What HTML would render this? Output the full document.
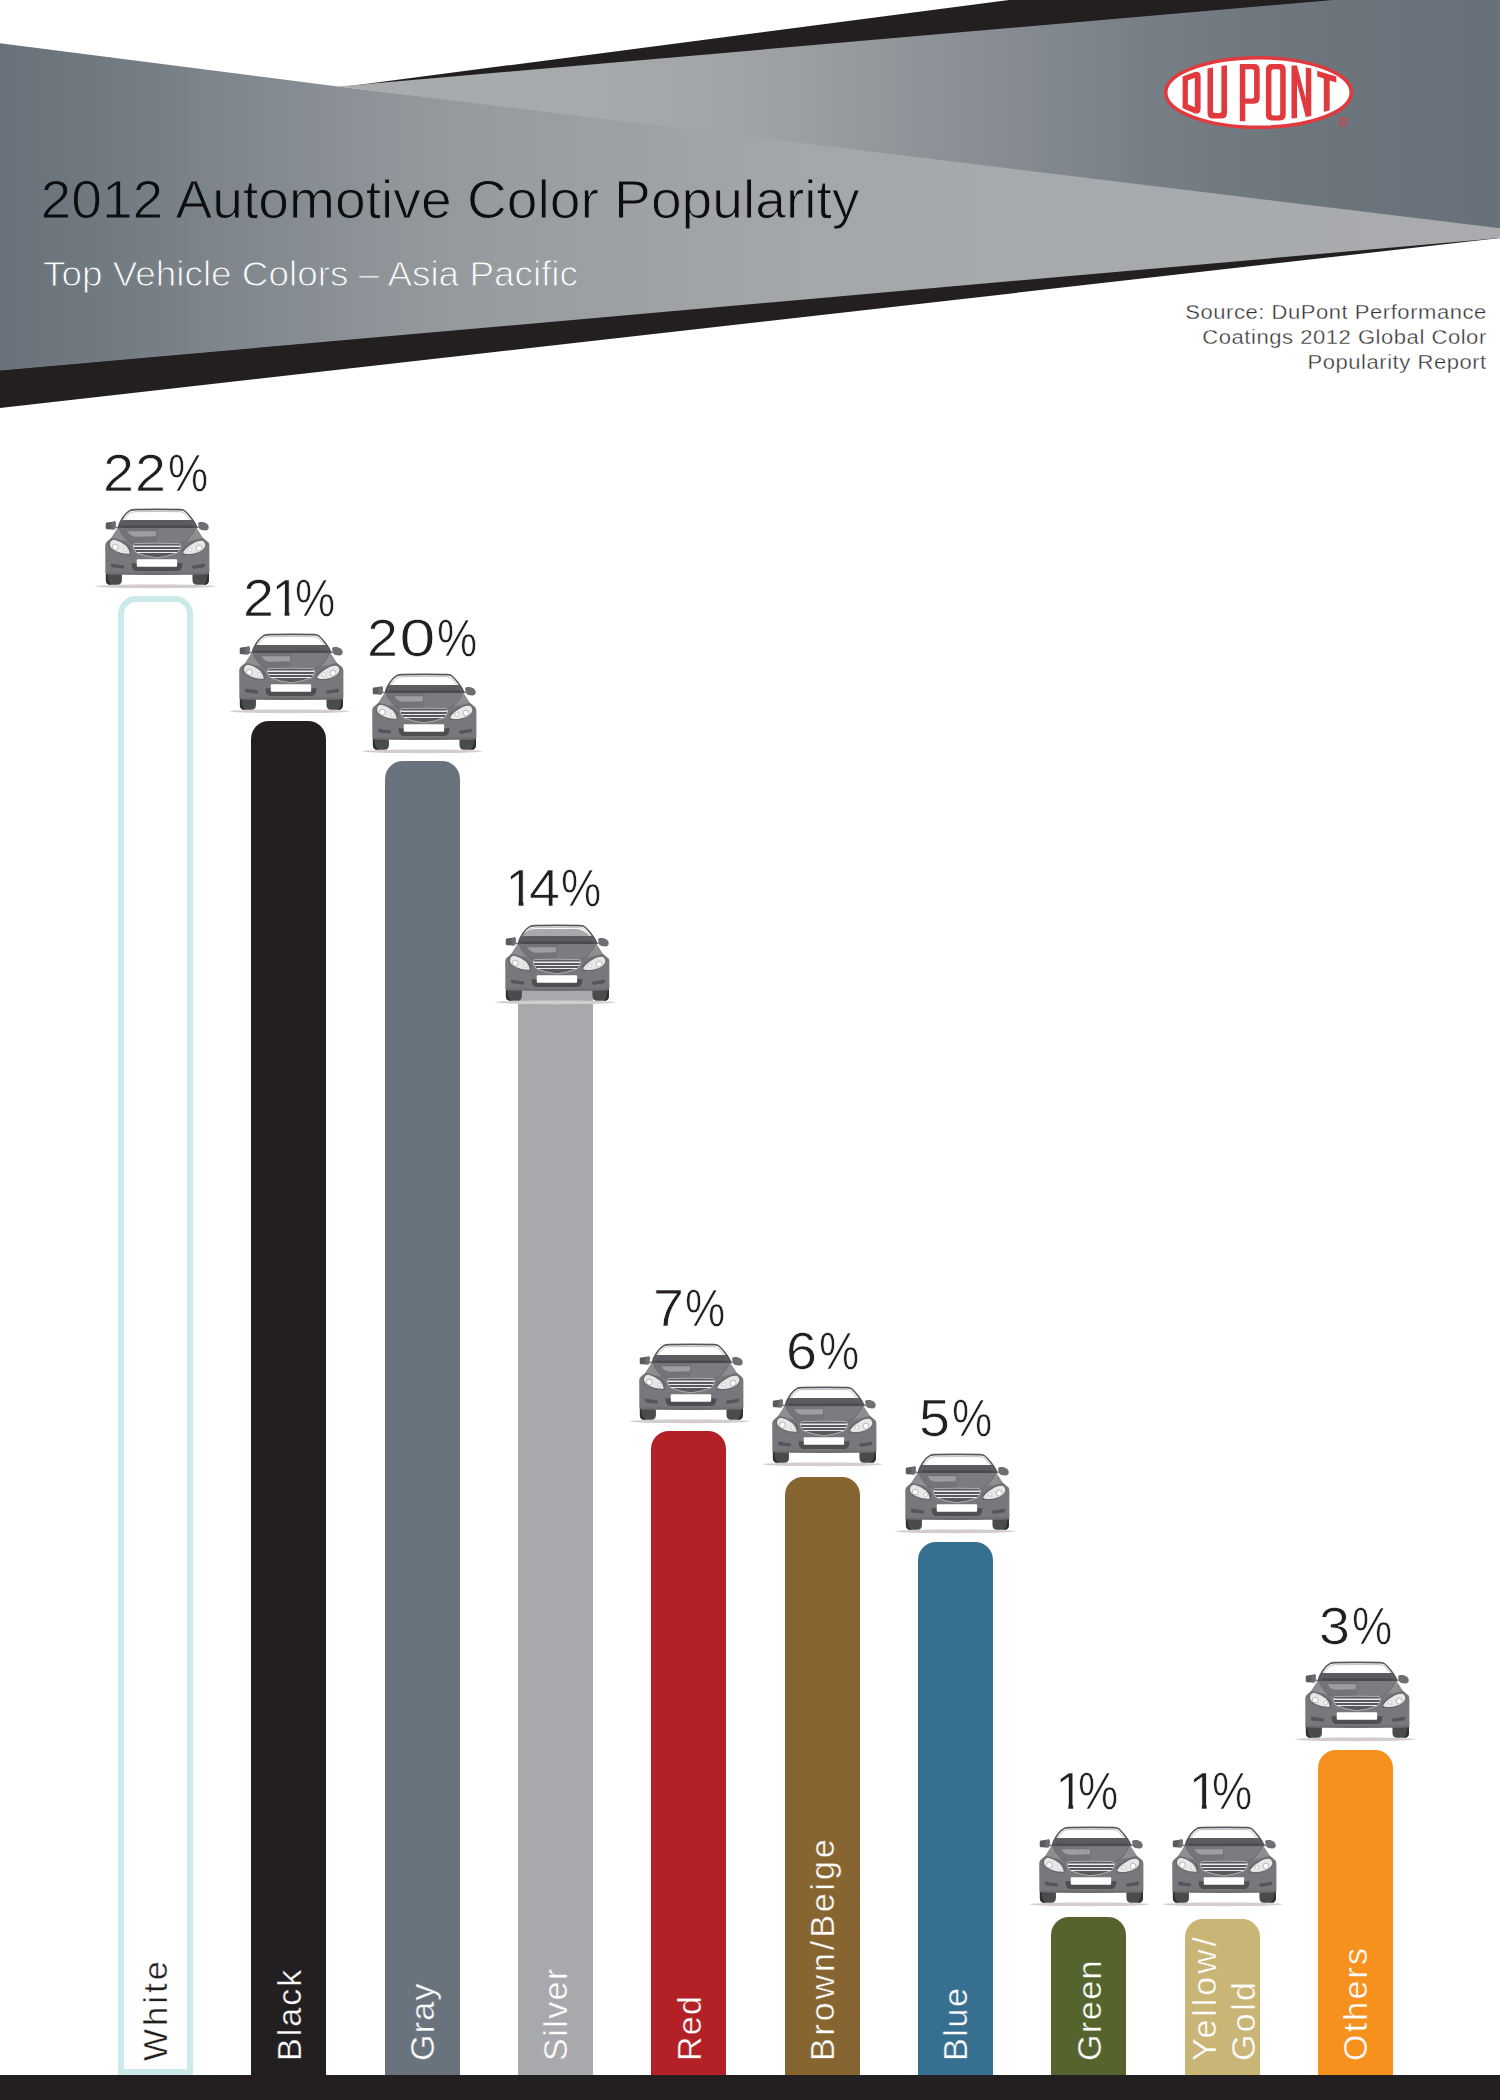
<!DOCTYPE html>
<html>
<head>
<meta charset="utf-8">
<title>2012 Automotive Color Popularity</title>
<style>
html,body{margin:0;padding:0;background:#fff;}
body{width:1500px;height:2100px;overflow:hidden;font-family:"Liberation Sans",sans-serif;}
#page{position:relative;width:1500px;height:2100px;overflow:hidden;background:#fff;}
#hdr{position:absolute;left:0;top:0;}
.src{position:absolute;right:13px;top:299.3px;font-size:20.5px;line-height:25px;letter-spacing:0.5px;transform:scaleX(1.074);color:#2f2f31;-webkit-text-stroke:0.35px #fff;text-align:right;white-space:nowrap;transform-origin:100% 0;}
.bar{position:absolute;width:75px;border-radius:18px 18px 0 0;}
.bar.white{box-sizing:border-box;border:6.5px solid #cdeaea;border-radius:18px 18px 0 0;background:#fff;}
.pct{position:absolute;width:200px;height:60px;line-height:60px;text-align:center;font-size:52px;letter-spacing:0;color:#231f20;white-space:nowrap;-webkit-text-stroke:0.7px #fff;}
.pct span{display:inline-block;}
.dg{transform:scaleX(1.07);margin:0 1.8px;}
.dg.z{transform:scaleX(1.24);margin:0 4.2px;}
.pc{transform:scaleX(0.87);margin:0 -2.2px;}
.one{margin:0 -6.5px 0 -3.2px;clip-path:polygon(0 0,100% 0,100% 43.8px,17.9px 43.8px,17.9px 100%,13.1px 100%,13.1px 43.8px,0 43.8px);}
.car{position:absolute;overflow:visible;}
.lbl{position:absolute;top:2061px;font-size:34px;line-height:40px;height:40px;white-space:nowrap;transform-origin:0 0;transform:rotate(-90deg);letter-spacing:1.5px;}
.floor{position:absolute;left:0;top:2075px;width:1500px;height:25px;background:#231f20;}
</style>
</head>
<body>
<div id="page">
<svg id="hdr" width="1500" height="420" viewBox="0 0 1500 420">
<defs>
<linearGradient id="gL" gradientUnits="userSpaceOnUse" x1="0" y1="0" x2="1500" y2="0">
<stop offset="0" stop-color="#69727a"/>
<stop offset="0.067" stop-color="#717a81"/>
<stop offset="0.133" stop-color="#7c848a"/>
<stop offset="0.2" stop-color="#868d92"/>
<stop offset="0.267" stop-color="#90969a"/>
<stop offset="0.333" stop-color="#979ca0"/>
<stop offset="0.4" stop-color="#9ca0a4"/>
<stop offset="0.467" stop-color="#a0a4a7"/>
<stop offset="0.533" stop-color="#a4a7aa"/>
<stop offset="0.667" stop-color="#a7aaad"/>
<stop offset="1" stop-color="#a9abae"/>
</linearGradient>
<linearGradient id="gR" gradientUnits="userSpaceOnUse" x1="340" y1="0" x2="1500" y2="0">
<stop offset="0" stop-color="#a9acaf"/>
<stop offset="0.224" stop-color="#a7aaad"/>
<stop offset="0.31" stop-color="#a3a6a9"/>
<stop offset="0.397" stop-color="#9b9fa3"/>
<stop offset="0.483" stop-color="#90959a"/>
<stop offset="0.569" stop-color="#868c92"/>
<stop offset="0.655" stop-color="#7c838a"/>
<stop offset="0.741" stop-color="#737b83"/>
<stop offset="0.828" stop-color="#6d757d"/>
<stop offset="1" stop-color="#68717a"/>
</linearGradient>
</defs>
<polygon points="350,86 1009,0 1500,0 1500,100" fill="#231f20"/>
<polygon points="0,370 1500,236.5 1500,238 0,408" fill="#231f20"/>
<polygon points="0,43.3 338,86.4 1500,220 1500,238 0,370.5" fill="url(#gL)"/>
<polygon points="338,86.4 1333,0 1500,0 1500,228.2" fill="url(#gR)"/>
<text x="40.5" y="217.6" font-family="Liberation Sans, sans-serif" font-size="53" textLength="819" lengthAdjust="spacingAndGlyphs" fill="#0d0d0f" stroke="url(#gL)" stroke-width="1">2012 Automotive Color Popularity</text>
<text x="43" y="286" font-family="Liberation Sans, sans-serif" font-size="35.5" textLength="535" lengthAdjust="spacingAndGlyphs" fill="#fff" stroke="url(#gL)" stroke-width="1">Top Vehicle Colors – Asia Pacific</text>
</svg>
<div class="src">Source: DuPont Performance<br>Coatings 2012 Global Color<br>Popularity Report</div>

<svg id="logo" style="position:absolute;left:1150px;top:45px" width="220" height="100" viewBox="0 0 220 100">
<ellipse cx="108.5" cy="47.5" rx="92.8" ry="34.8" fill="#fff" stroke="#e0393e" stroke-width="3.6"/>
<g fill="#e0393e" fill-rule="evenodd">
<path d="M32.6,31.5 L44,27.2 Q50.6,25.6 50.6,31.5 L50.6,63.5 Q50.6,70 44.5,68.2 L32.6,63.2 Z M37.9,35.5 L44.8,32.8 L44.8,62.2 L37.9,59.3 Z"/>
<path d="M57.5,23.5 L63,22.6 L63,66 Q63,68 65,68 L69.4,68 Q71.4,68 71.4,66 L71.4,21.1 L77,20.3 L77,68 Q77,73.5 71.5,73.5 L63,73.5 Q57.5,73.5 57.5,68 Z"/>
<path d="M89.8,19 L104,19 Q109.7,19 109.7,24.7 L109.7,53 Q109.7,58.7 104,58.7 L95.3,58.7 L95.3,76.3 L89.8,76.3 Z M95.3,24.2 L102.1,24.2 Q104.1,24.2 104.1,26.2 L104.1,51.5 Q104.1,53.5 102.1,53.5 L95.3,53.5 Z"/>
<path d="M115.9,24.7 Q115.9,19 121.6,19 L130,19 Q135.7,19 135.7,24.7 L135.7,69.8 Q135.7,75.5 130,75.5 L121.6,75.5 Q115.9,75.5 115.9,69.8 Z M121.4,26.2 Q121.4,24.2 123.4,24.2 L128.2,24.2 Q130.2,24.2 130.2,26.2 L130.2,68.4 Q130.2,70.4 128.2,70.4 L123.4,70.4 Q121.4,70.4 121.4,68.4 Z"/>
<path d="M141.5,20.5 L147,20.5 L155.8,54 L155.8,22.6 L161.3,23.6 L161.3,71 L155.8,72 L147,38.5 L147,73 L141.5,73.5 Z"/>
<path d="M167.2,25.7 L186.3,31.5 L186.3,37.4 L179.7,35.4 L179.7,65.2 L173.8,67 L173.8,33.6 L167.2,31.5 Z"/>
</g>
<circle cx="192.9" cy="77" r="4.3" fill="none" stroke="#e0393e" stroke-width="1"/>
<path d="M191.4,79.6 L191.4,74.4 L193.4,74.4 Q194.8,74.5 194.8,75.9 Q194.8,77.2 193.4,77.3 L191.4,77.3 M193.3,77.3 L194.9,79.6" fill="none" stroke="#e0393e" stroke-width="0.9"/>
</svg>

<div class="bar white" style="left:118.0px;top:596.0px;height:1479.0px"></div>
<div class="pct" style="left:55.5px;top:442.5px"><span class="dg">2</span><span class="dg">2</span><span class="pc">%</span></div>
<svg class="car" style="left:95.3px;top:500.25px" width="125" height="95" viewBox="0 0 125 95"><g>
<ellipse cx="60.5" cy="86.3" rx="59.8" ry="1.9" fill="#d3cccd"/>
<g transform="translate(9.9,0) scale(0.9895,1) translate(-9.9,0)">
<path d="M10.9,70 L27.1,70 L27.1,80 Q27.1,84.7 22.5,84.7 L15.5,84.7 Q10.9,84.7 10.9,80 Z" fill="#4b4b4e"/>
<path d="M98.4,70 L115,70 L115,80 Q115,84.7 110.4,84.7 L103,84.7 Q98.4,84.7 98.4,80 Z" fill="#4b4b4e"/>
<path d="M10.9,74 L10.9,80 Q10.9,84.7 15.5,84.7 L17,84.7 Q12.6,83.5 12.4,74 Z" fill="#2e2e30"/>
<path d="M115,74 L115,80 Q115,84.7 110.4,84.7 L109,84.7 Q113.4,83.5 113.5,74 Z" fill="#2e2e30"/>
<path d="M10.4,73.3 L10.2,45.5 Q10.3,43 11.5,42 L16.7,37.5 L22.8,28 L102.2,28 L108.6,37.5 L114.2,42 Q115.4,43 115.5,45.5 L115.5,72.6 Q115.4,74.1 113.5,74.2 L98.3,74.6 L61.7,75 L27.5,74.6 L12.3,74.2 Q10.5,74.1 10.4,72.6 Z" fill="#77787b"/>
<path d="M10.4,72.6 L115.5,72.6 Q115.4,74.1 113.5,74.2 L98.3,74.6 L61.7,75 L27.5,74.6 L12.3,74.2 Q10.5,74.1 10.4,72.6 Z" fill="#6d6e71"/>
<path d="M16.7,37.5 L22.8,28 L25,28.5 Q27,36 33,41 L25,40 Q20,38 16.7,37.5 Z" fill="#8d8e91"/>
<path d="M108.6,37.5 L102.2,28 L100.5,28.5 Q98.5,36 92.5,41 L100.5,40 Q105.5,38 108.6,37.5 Z" fill="#8d8e91"/>
<path d="M24.2,28.3 L101,28.3 Q98,38.5 86.5,43.6 L38.8,43.6 Q27,38.5 24.2,28.3 Z" fill="#737477"/>
<path d="M63,28.3 L101,28.3 Q98,38.5 86.5,43.6 L62,43.6 Z" fill="#7b7c7f"/>
<path d="M24.2,28.3 Q27,38.5 38.8,43.6 M101,28.3 Q98,38.5 86.5,43.6" fill="none" stroke="#5f6063" stroke-width="0.5"/>
<path d="M33,31.3 L61.7,31.3 L61.3,36.3 L42,36.8 Q35,36.5 33,31.3 Z" fill="#9d9ea1"/>
<path d="M13.5,43.5 L17,38.5 Q28,39.5 37,48 L36,55 L26,54.5 L15,49 Z" fill="#67686b"/>
<path d="M112.6,44 L109.2,39.3 Q98,40 88,49 L88.4,55.2 L99.8,54.9 L111,49.5 Z" fill="#67686b"/>
<path d="M15,44.2 Q15.3,41.3 17.2,40.3 Q18.8,39.5 21,40.2 Q27,41.8 31,45.4 Q34.4,48.6 35,53.8 Q30,53.9 26.5,53 Q20.5,51.5 16.5,48.2 Q15,46.5 15,44.2 Z" fill="#e6e7e8"/>
<path d="M89.1,52 Q90.5,50 92.5,48.1 Q95,45.6 98.5,43.7 Q101.5,42 104.7,41.1 Q106.5,40.6 108.2,40.7 Q110.3,41.2 110.9,42.9 Q111.6,44.4 111.3,45.9 Q110.8,47.8 109,49.4 Q107,51 104.7,52 Q101.8,53.1 98.5,53.7 Q95,54.2 92.5,54.1 Q90.6,54 89.8,53.3 Q89,52.8 89.1,52 Z" fill="#e6e7e8"/>
<circle cx="20.4" cy="47.1" r="2.9" fill="#fff" stroke="#8e8f92" stroke-width="0.6"/>
<circle cx="30.8" cy="49.7" r="1.8" fill="#fff" stroke="#9a9b9e" stroke-width="0.45"/>
<circle cx="105.1" cy="48.1" r="2.9" fill="#fff" stroke="#8e8f92" stroke-width="0.6"/>
<circle cx="95.9" cy="49.4" r="1.8" fill="#fff" stroke="#9a9b9e" stroke-width="0.45"/>
<path d="M40,43.6 Q62.5,42.9 85,43.6 Q86.6,44.5 86.2,47 Q85.5,50.5 83.3,52.6 Q74,56.6 62.5,57.8 Q51,56.6 41.7,52.6 Q39.3,50.5 38.6,47 Q38.3,44.5 40,43.6 Z" fill="#58595c" stroke="#e9e9ea" stroke-width="0.55"/>
<path d="M39,46.25 L86,46.25" stroke="#ebebed" stroke-width="1.3" fill="none"/><path d="M39.9,49.45 L85.1,49.45 M42.3,52.55 L82.7,52.55" stroke="#ebebed" stroke-width="1.05" fill="none"/>
<path d="M36.6,63.2 L88.4,63.2 L87.8,67 Q86.6,70.8 83.3,71 L41.7,71 Q38.4,70.8 37.2,67 Z" fill="#4e4f52"/>
<rect x="42.1" y="59.3" width="40.8" height="7.4" rx="1" ry="1" fill="#fff"/>
<path d="M16.4,63.8 L28.2,65.2 Q29.4,65.6 29.3,67.2 Q29,68.6 27.6,68.5 L17.6,67.5 Q16,67 15.9,65.4 Q15.9,64 16.4,63.8 Z" fill="#55565a"/>
<path d="M98.8,65.6 L110.3,63.8 Q111.2,64 111.1,65.6 Q110.9,67.2 109.7,67.4 L99.6,68.7 Q98.2,68.7 98,67.3 Q97.9,65.9 98.8,65.6 Z" fill="#55565a"/>
<path d="M10.8,23.4 Q10.9,22.6 12,22.4 L19.8,21.6 Q20.9,21.7 20.9,22.8 L20.5,28.2 Q20.2,29.3 19,29.4 L12,29.2 Q10.7,29 10.7,27.8 Z" fill="#5a5b5e"/>
<path d="M16.5,21.9 L19.8,21.6 Q20.9,21.7 20.9,22.8 L20.5,28.2 Q20.2,29.3 19,29.4 L16.2,29.3 Z" fill="#6c6d70"/>
<path d="M20.7,26.3 L24,27.6 L23.4,28.6 L20.5,28 Z" fill="#77787b"/>
<path d="M104.1,23.3 Q104.3,22 106,21.9 L109.2,21.9 Q112.6,22.6 114.2,25 Q115.2,26.8 114.6,28.8 Q113.8,30.6 111.3,30.4 L107.4,30 Q105.2,29.4 104.6,27.6 Z" fill="#6e6f72"/>
<path d="M104.5,26.3 L101.2,27.6 L101.8,28.6 L104.5,28 Z" fill="#77787b"/>
<path d="M26.2,20 L99.6,20 Q101.6,24 102.3,27.9 L23.5,27.9 Q24.2,24 26.2,20 Z" fill="#5b5c5f"/>
<path d="M24.1,25.5 L101.7,25.5 L102.3,27.9 L23.5,27.9 Z" fill="#4a4b4e"/>
<path d="M23.4,27.7 C24.7,22.5 29.5,13.5 35.3,10.6 Q37.4,9.7 40.5,9.65 Q62.9,9.2 86,9.65 Q89.2,9.7 90.8,11 C94.5,14.2 100.8,22.5 103.1,27.7" fill="none" stroke="#56575b" stroke-width="1.6" stroke-linejoin="round"/>
<path d="M25.7,27.6 C27,23 31,15.2 36,12.6 Q37.8,11.8 40.6,11.7 Q62.9,11.3 85.6,11.7 Q88.4,11.8 89.8,13 C93,15.8 98.6,23 100.8,27.6" fill="none" stroke="#77787b" stroke-width="0.45"/>
</g>
</g></svg>
<div class="lbl" style="left:135.4px;color:#231f20;-webkit-text-stroke:0.4px #fff;letter-spacing:3.2px">White</div>
<div class="bar" style="left:251.0px;top:721.0px;height:1354.0px;background:#231f20"></div>
<div class="pct" style="left:189.0px;top:567.5px"><span class="dg">2</span><span class="one">1</span><span class="pc">%</span></div>
<svg class="car" style="left:228.8px;top:625.25px" width="125" height="95" viewBox="0 0 125 95"><g>
<ellipse cx="60.5" cy="86.3" rx="59.8" ry="1.9" fill="#d3cccd"/>
<g transform="translate(9.9,0) scale(0.9895,1) translate(-9.9,0)">
<path d="M10.9,70 L27.1,70 L27.1,80 Q27.1,84.7 22.5,84.7 L15.5,84.7 Q10.9,84.7 10.9,80 Z" fill="#4b4b4e"/>
<path d="M98.4,70 L115,70 L115,80 Q115,84.7 110.4,84.7 L103,84.7 Q98.4,84.7 98.4,80 Z" fill="#4b4b4e"/>
<path d="M10.9,74 L10.9,80 Q10.9,84.7 15.5,84.7 L17,84.7 Q12.6,83.5 12.4,74 Z" fill="#2e2e30"/>
<path d="M115,74 L115,80 Q115,84.7 110.4,84.7 L109,84.7 Q113.4,83.5 113.5,74 Z" fill="#2e2e30"/>
<path d="M10.4,73.3 L10.2,45.5 Q10.3,43 11.5,42 L16.7,37.5 L22.8,28 L102.2,28 L108.6,37.5 L114.2,42 Q115.4,43 115.5,45.5 L115.5,72.6 Q115.4,74.1 113.5,74.2 L98.3,74.6 L61.7,75 L27.5,74.6 L12.3,74.2 Q10.5,74.1 10.4,72.6 Z" fill="#77787b"/>
<path d="M10.4,72.6 L115.5,72.6 Q115.4,74.1 113.5,74.2 L98.3,74.6 L61.7,75 L27.5,74.6 L12.3,74.2 Q10.5,74.1 10.4,72.6 Z" fill="#6d6e71"/>
<path d="M16.7,37.5 L22.8,28 L25,28.5 Q27,36 33,41 L25,40 Q20,38 16.7,37.5 Z" fill="#8d8e91"/>
<path d="M108.6,37.5 L102.2,28 L100.5,28.5 Q98.5,36 92.5,41 L100.5,40 Q105.5,38 108.6,37.5 Z" fill="#8d8e91"/>
<path d="M24.2,28.3 L101,28.3 Q98,38.5 86.5,43.6 L38.8,43.6 Q27,38.5 24.2,28.3 Z" fill="#737477"/>
<path d="M63,28.3 L101,28.3 Q98,38.5 86.5,43.6 L62,43.6 Z" fill="#7b7c7f"/>
<path d="M24.2,28.3 Q27,38.5 38.8,43.6 M101,28.3 Q98,38.5 86.5,43.6" fill="none" stroke="#5f6063" stroke-width="0.5"/>
<path d="M33,31.3 L61.7,31.3 L61.3,36.3 L42,36.8 Q35,36.5 33,31.3 Z" fill="#9d9ea1"/>
<path d="M13.5,43.5 L17,38.5 Q28,39.5 37,48 L36,55 L26,54.5 L15,49 Z" fill="#67686b"/>
<path d="M112.6,44 L109.2,39.3 Q98,40 88,49 L88.4,55.2 L99.8,54.9 L111,49.5 Z" fill="#67686b"/>
<path d="M15,44.2 Q15.3,41.3 17.2,40.3 Q18.8,39.5 21,40.2 Q27,41.8 31,45.4 Q34.4,48.6 35,53.8 Q30,53.9 26.5,53 Q20.5,51.5 16.5,48.2 Q15,46.5 15,44.2 Z" fill="#e6e7e8"/>
<path d="M89.1,52 Q90.5,50 92.5,48.1 Q95,45.6 98.5,43.7 Q101.5,42 104.7,41.1 Q106.5,40.6 108.2,40.7 Q110.3,41.2 110.9,42.9 Q111.6,44.4 111.3,45.9 Q110.8,47.8 109,49.4 Q107,51 104.7,52 Q101.8,53.1 98.5,53.7 Q95,54.2 92.5,54.1 Q90.6,54 89.8,53.3 Q89,52.8 89.1,52 Z" fill="#e6e7e8"/>
<circle cx="20.4" cy="47.1" r="2.9" fill="#fff" stroke="#8e8f92" stroke-width="0.6"/>
<circle cx="30.8" cy="49.7" r="1.8" fill="#fff" stroke="#9a9b9e" stroke-width="0.45"/>
<circle cx="105.1" cy="48.1" r="2.9" fill="#fff" stroke="#8e8f92" stroke-width="0.6"/>
<circle cx="95.9" cy="49.4" r="1.8" fill="#fff" stroke="#9a9b9e" stroke-width="0.45"/>
<path d="M40,43.6 Q62.5,42.9 85,43.6 Q86.6,44.5 86.2,47 Q85.5,50.5 83.3,52.6 Q74,56.6 62.5,57.8 Q51,56.6 41.7,52.6 Q39.3,50.5 38.6,47 Q38.3,44.5 40,43.6 Z" fill="#58595c" stroke="#e9e9ea" stroke-width="0.55"/>
<path d="M39,46.25 L86,46.25" stroke="#ebebed" stroke-width="1.3" fill="none"/><path d="M39.9,49.45 L85.1,49.45 M42.3,52.55 L82.7,52.55" stroke="#ebebed" stroke-width="1.05" fill="none"/>
<path d="M36.6,63.2 L88.4,63.2 L87.8,67 Q86.6,70.8 83.3,71 L41.7,71 Q38.4,70.8 37.2,67 Z" fill="#4e4f52"/>
<rect x="42.1" y="59.3" width="40.8" height="7.4" rx="1" ry="1" fill="#fff"/>
<path d="M16.4,63.8 L28.2,65.2 Q29.4,65.6 29.3,67.2 Q29,68.6 27.6,68.5 L17.6,67.5 Q16,67 15.9,65.4 Q15.9,64 16.4,63.8 Z" fill="#55565a"/>
<path d="M98.8,65.6 L110.3,63.8 Q111.2,64 111.1,65.6 Q110.9,67.2 109.7,67.4 L99.6,68.7 Q98.2,68.7 98,67.3 Q97.9,65.9 98.8,65.6 Z" fill="#55565a"/>
<path d="M10.8,23.4 Q10.9,22.6 12,22.4 L19.8,21.6 Q20.9,21.7 20.9,22.8 L20.5,28.2 Q20.2,29.3 19,29.4 L12,29.2 Q10.7,29 10.7,27.8 Z" fill="#5a5b5e"/>
<path d="M16.5,21.9 L19.8,21.6 Q20.9,21.7 20.9,22.8 L20.5,28.2 Q20.2,29.3 19,29.4 L16.2,29.3 Z" fill="#6c6d70"/>
<path d="M20.7,26.3 L24,27.6 L23.4,28.6 L20.5,28 Z" fill="#77787b"/>
<path d="M104.1,23.3 Q104.3,22 106,21.9 L109.2,21.9 Q112.6,22.6 114.2,25 Q115.2,26.8 114.6,28.8 Q113.8,30.6 111.3,30.4 L107.4,30 Q105.2,29.4 104.6,27.6 Z" fill="#6e6f72"/>
<path d="M104.5,26.3 L101.2,27.6 L101.8,28.6 L104.5,28 Z" fill="#77787b"/>
<path d="M26.2,20 L99.6,20 Q101.6,24 102.3,27.9 L23.5,27.9 Q24.2,24 26.2,20 Z" fill="#5b5c5f"/>
<path d="M24.1,25.5 L101.7,25.5 L102.3,27.9 L23.5,27.9 Z" fill="#4a4b4e"/>
<path d="M23.4,27.7 C24.7,22.5 29.5,13.5 35.3,10.6 Q37.4,9.7 40.5,9.65 Q62.9,9.2 86,9.65 Q89.2,9.7 90.8,11 C94.5,14.2 100.8,22.5 103.1,27.7" fill="none" stroke="#56575b" stroke-width="1.6" stroke-linejoin="round"/>
<path d="M25.7,27.6 C27,23 31,15.2 36,12.6 Q37.8,11.8 40.6,11.7 Q62.9,11.3 85.6,11.7 Q88.4,11.8 89.8,13 C93,15.8 98.6,23 100.8,27.6" fill="none" stroke="#77787b" stroke-width="0.45"/>
</g>
</g></svg>
<div class="lbl" style="left:268.9px;color:#fff;-webkit-text-stroke:0.4px #231f20;letter-spacing:2.0px">Black</div>
<div class="bar" style="left:385.0px;top:760.5px;height:1314.5px;background:#69737d"></div>
<div class="pct" style="left:322.5px;top:607.5px"><span class="dg">2</span><span class="dg z">0</span><span class="pc">%</span></div>
<svg class="car" style="left:362.3px;top:665.25px" width="125" height="95" viewBox="0 0 125 95"><g>
<ellipse cx="60.5" cy="86.3" rx="59.8" ry="1.9" fill="#d3cccd"/>
<g transform="translate(9.9,0) scale(0.9895,1) translate(-9.9,0)">
<path d="M10.9,70 L27.1,70 L27.1,80 Q27.1,84.7 22.5,84.7 L15.5,84.7 Q10.9,84.7 10.9,80 Z" fill="#4b4b4e"/>
<path d="M98.4,70 L115,70 L115,80 Q115,84.7 110.4,84.7 L103,84.7 Q98.4,84.7 98.4,80 Z" fill="#4b4b4e"/>
<path d="M10.9,74 L10.9,80 Q10.9,84.7 15.5,84.7 L17,84.7 Q12.6,83.5 12.4,74 Z" fill="#2e2e30"/>
<path d="M115,74 L115,80 Q115,84.7 110.4,84.7 L109,84.7 Q113.4,83.5 113.5,74 Z" fill="#2e2e30"/>
<path d="M10.4,73.3 L10.2,45.5 Q10.3,43 11.5,42 L16.7,37.5 L22.8,28 L102.2,28 L108.6,37.5 L114.2,42 Q115.4,43 115.5,45.5 L115.5,72.6 Q115.4,74.1 113.5,74.2 L98.3,74.6 L61.7,75 L27.5,74.6 L12.3,74.2 Q10.5,74.1 10.4,72.6 Z" fill="#77787b"/>
<path d="M10.4,72.6 L115.5,72.6 Q115.4,74.1 113.5,74.2 L98.3,74.6 L61.7,75 L27.5,74.6 L12.3,74.2 Q10.5,74.1 10.4,72.6 Z" fill="#6d6e71"/>
<path d="M16.7,37.5 L22.8,28 L25,28.5 Q27,36 33,41 L25,40 Q20,38 16.7,37.5 Z" fill="#8d8e91"/>
<path d="M108.6,37.5 L102.2,28 L100.5,28.5 Q98.5,36 92.5,41 L100.5,40 Q105.5,38 108.6,37.5 Z" fill="#8d8e91"/>
<path d="M24.2,28.3 L101,28.3 Q98,38.5 86.5,43.6 L38.8,43.6 Q27,38.5 24.2,28.3 Z" fill="#737477"/>
<path d="M63,28.3 L101,28.3 Q98,38.5 86.5,43.6 L62,43.6 Z" fill="#7b7c7f"/>
<path d="M24.2,28.3 Q27,38.5 38.8,43.6 M101,28.3 Q98,38.5 86.5,43.6" fill="none" stroke="#5f6063" stroke-width="0.5"/>
<path d="M33,31.3 L61.7,31.3 L61.3,36.3 L42,36.8 Q35,36.5 33,31.3 Z" fill="#9d9ea1"/>
<path d="M13.5,43.5 L17,38.5 Q28,39.5 37,48 L36,55 L26,54.5 L15,49 Z" fill="#67686b"/>
<path d="M112.6,44 L109.2,39.3 Q98,40 88,49 L88.4,55.2 L99.8,54.9 L111,49.5 Z" fill="#67686b"/>
<path d="M15,44.2 Q15.3,41.3 17.2,40.3 Q18.8,39.5 21,40.2 Q27,41.8 31,45.4 Q34.4,48.6 35,53.8 Q30,53.9 26.5,53 Q20.5,51.5 16.5,48.2 Q15,46.5 15,44.2 Z" fill="#e6e7e8"/>
<path d="M89.1,52 Q90.5,50 92.5,48.1 Q95,45.6 98.5,43.7 Q101.5,42 104.7,41.1 Q106.5,40.6 108.2,40.7 Q110.3,41.2 110.9,42.9 Q111.6,44.4 111.3,45.9 Q110.8,47.8 109,49.4 Q107,51 104.7,52 Q101.8,53.1 98.5,53.7 Q95,54.2 92.5,54.1 Q90.6,54 89.8,53.3 Q89,52.8 89.1,52 Z" fill="#e6e7e8"/>
<circle cx="20.4" cy="47.1" r="2.9" fill="#fff" stroke="#8e8f92" stroke-width="0.6"/>
<circle cx="30.8" cy="49.7" r="1.8" fill="#fff" stroke="#9a9b9e" stroke-width="0.45"/>
<circle cx="105.1" cy="48.1" r="2.9" fill="#fff" stroke="#8e8f92" stroke-width="0.6"/>
<circle cx="95.9" cy="49.4" r="1.8" fill="#fff" stroke="#9a9b9e" stroke-width="0.45"/>
<path d="M40,43.6 Q62.5,42.9 85,43.6 Q86.6,44.5 86.2,47 Q85.5,50.5 83.3,52.6 Q74,56.6 62.5,57.8 Q51,56.6 41.7,52.6 Q39.3,50.5 38.6,47 Q38.3,44.5 40,43.6 Z" fill="#58595c" stroke="#e9e9ea" stroke-width="0.55"/>
<path d="M39,46.25 L86,46.25" stroke="#ebebed" stroke-width="1.3" fill="none"/><path d="M39.9,49.45 L85.1,49.45 M42.3,52.55 L82.7,52.55" stroke="#ebebed" stroke-width="1.05" fill="none"/>
<path d="M36.6,63.2 L88.4,63.2 L87.8,67 Q86.6,70.8 83.3,71 L41.7,71 Q38.4,70.8 37.2,67 Z" fill="#4e4f52"/>
<rect x="42.1" y="59.3" width="40.8" height="7.4" rx="1" ry="1" fill="#fff"/>
<path d="M16.4,63.8 L28.2,65.2 Q29.4,65.6 29.3,67.2 Q29,68.6 27.6,68.5 L17.6,67.5 Q16,67 15.9,65.4 Q15.9,64 16.4,63.8 Z" fill="#55565a"/>
<path d="M98.8,65.6 L110.3,63.8 Q111.2,64 111.1,65.6 Q110.9,67.2 109.7,67.4 L99.6,68.7 Q98.2,68.7 98,67.3 Q97.9,65.9 98.8,65.6 Z" fill="#55565a"/>
<path d="M10.8,23.4 Q10.9,22.6 12,22.4 L19.8,21.6 Q20.9,21.7 20.9,22.8 L20.5,28.2 Q20.2,29.3 19,29.4 L12,29.2 Q10.7,29 10.7,27.8 Z" fill="#5a5b5e"/>
<path d="M16.5,21.9 L19.8,21.6 Q20.9,21.7 20.9,22.8 L20.5,28.2 Q20.2,29.3 19,29.4 L16.2,29.3 Z" fill="#6c6d70"/>
<path d="M20.7,26.3 L24,27.6 L23.4,28.6 L20.5,28 Z" fill="#77787b"/>
<path d="M104.1,23.3 Q104.3,22 106,21.9 L109.2,21.9 Q112.6,22.6 114.2,25 Q115.2,26.8 114.6,28.8 Q113.8,30.6 111.3,30.4 L107.4,30 Q105.2,29.4 104.6,27.6 Z" fill="#6e6f72"/>
<path d="M104.5,26.3 L101.2,27.6 L101.8,28.6 L104.5,28 Z" fill="#77787b"/>
<path d="M26.2,20 L99.6,20 Q101.6,24 102.3,27.9 L23.5,27.9 Q24.2,24 26.2,20 Z" fill="#5b5c5f"/>
<path d="M24.1,25.5 L101.7,25.5 L102.3,27.9 L23.5,27.9 Z" fill="#4a4b4e"/>
<path d="M23.4,27.7 C24.7,22.5 29.5,13.5 35.3,10.6 Q37.4,9.7 40.5,9.65 Q62.9,9.2 86,9.65 Q89.2,9.7 90.8,11 C94.5,14.2 100.8,22.5 103.1,27.7" fill="none" stroke="#56575b" stroke-width="1.6" stroke-linejoin="round"/>
<path d="M25.7,27.6 C27,23 31,15.2 36,12.6 Q37.8,11.8 40.6,11.7 Q62.9,11.3 85.6,11.7 Q88.4,11.8 89.8,13 C93,15.8 98.6,23 100.8,27.6" fill="none" stroke="#77787b" stroke-width="0.45"/>
</g>
</g></svg>
<div class="lbl" style="left:402.4px;color:#fff;-webkit-text-stroke:0.4px #69737d;letter-spacing:1.3px">Gray</div>
<div class="bar" style="left:518.0px;top:928.5px;height:1146.5px;background:#a7a9ac"></div>
<div class="pct" style="left:455.5px;top:858.2px"><span class="one">1</span><span class="dg">4</span><span class="pc">%</span></div>
<svg class="car" style="left:495.3px;top:915.95px" width="125" height="95" viewBox="0 0 125 95"><g>
<ellipse cx="60.5" cy="86.3" rx="59.8" ry="1.9" fill="#d3cccd"/>
<g transform="translate(9.9,0) scale(0.9895,1) translate(-9.9,0)">
<path d="M10.9,70 L27.1,70 L27.1,80 Q27.1,84.7 22.5,84.7 L15.5,84.7 Q10.9,84.7 10.9,80 Z" fill="#4b4b4e"/>
<path d="M98.4,70 L115,70 L115,80 Q115,84.7 110.4,84.7 L103,84.7 Q98.4,84.7 98.4,80 Z" fill="#4b4b4e"/>
<path d="M10.9,74 L10.9,80 Q10.9,84.7 15.5,84.7 L17,84.7 Q12.6,83.5 12.4,74 Z" fill="#2e2e30"/>
<path d="M115,74 L115,80 Q115,84.7 110.4,84.7 L109,84.7 Q113.4,83.5 113.5,74 Z" fill="#2e2e30"/>
<path d="M10.4,73.3 L10.2,45.5 Q10.3,43 11.5,42 L16.7,37.5 L22.8,28 L102.2,28 L108.6,37.5 L114.2,42 Q115.4,43 115.5,45.5 L115.5,72.6 Q115.4,74.1 113.5,74.2 L98.3,74.6 L61.7,75 L27.5,74.6 L12.3,74.2 Q10.5,74.1 10.4,72.6 Z" fill="#77787b"/>
<path d="M10.4,72.6 L115.5,72.6 Q115.4,74.1 113.5,74.2 L98.3,74.6 L61.7,75 L27.5,74.6 L12.3,74.2 Q10.5,74.1 10.4,72.6 Z" fill="#6d6e71"/>
<path d="M16.7,37.5 L22.8,28 L25,28.5 Q27,36 33,41 L25,40 Q20,38 16.7,37.5 Z" fill="#8d8e91"/>
<path d="M108.6,37.5 L102.2,28 L100.5,28.5 Q98.5,36 92.5,41 L100.5,40 Q105.5,38 108.6,37.5 Z" fill="#8d8e91"/>
<path d="M24.2,28.3 L101,28.3 Q98,38.5 86.5,43.6 L38.8,43.6 Q27,38.5 24.2,28.3 Z" fill="#737477"/>
<path d="M63,28.3 L101,28.3 Q98,38.5 86.5,43.6 L62,43.6 Z" fill="#7b7c7f"/>
<path d="M24.2,28.3 Q27,38.5 38.8,43.6 M101,28.3 Q98,38.5 86.5,43.6" fill="none" stroke="#5f6063" stroke-width="0.5"/>
<path d="M33,31.3 L61.7,31.3 L61.3,36.3 L42,36.8 Q35,36.5 33,31.3 Z" fill="#9d9ea1"/>
<path d="M13.5,43.5 L17,38.5 Q28,39.5 37,48 L36,55 L26,54.5 L15,49 Z" fill="#67686b"/>
<path d="M112.6,44 L109.2,39.3 Q98,40 88,49 L88.4,55.2 L99.8,54.9 L111,49.5 Z" fill="#67686b"/>
<path d="M15,44.2 Q15.3,41.3 17.2,40.3 Q18.8,39.5 21,40.2 Q27,41.8 31,45.4 Q34.4,48.6 35,53.8 Q30,53.9 26.5,53 Q20.5,51.5 16.5,48.2 Q15,46.5 15,44.2 Z" fill="#e6e7e8"/>
<path d="M89.1,52 Q90.5,50 92.5,48.1 Q95,45.6 98.5,43.7 Q101.5,42 104.7,41.1 Q106.5,40.6 108.2,40.7 Q110.3,41.2 110.9,42.9 Q111.6,44.4 111.3,45.9 Q110.8,47.8 109,49.4 Q107,51 104.7,52 Q101.8,53.1 98.5,53.7 Q95,54.2 92.5,54.1 Q90.6,54 89.8,53.3 Q89,52.8 89.1,52 Z" fill="#e6e7e8"/>
<circle cx="20.4" cy="47.1" r="2.9" fill="#fff" stroke="#8e8f92" stroke-width="0.6"/>
<circle cx="30.8" cy="49.7" r="1.8" fill="#fff" stroke="#9a9b9e" stroke-width="0.45"/>
<circle cx="105.1" cy="48.1" r="2.9" fill="#fff" stroke="#8e8f92" stroke-width="0.6"/>
<circle cx="95.9" cy="49.4" r="1.8" fill="#fff" stroke="#9a9b9e" stroke-width="0.45"/>
<path d="M40,43.6 Q62.5,42.9 85,43.6 Q86.6,44.5 86.2,47 Q85.5,50.5 83.3,52.6 Q74,56.6 62.5,57.8 Q51,56.6 41.7,52.6 Q39.3,50.5 38.6,47 Q38.3,44.5 40,43.6 Z" fill="#58595c" stroke="#e9e9ea" stroke-width="0.55"/>
<path d="M39,46.25 L86,46.25" stroke="#ebebed" stroke-width="1.3" fill="none"/><path d="M39.9,49.45 L85.1,49.45 M42.3,52.55 L82.7,52.55" stroke="#ebebed" stroke-width="1.05" fill="none"/>
<path d="M36.6,63.2 L88.4,63.2 L87.8,67 Q86.6,70.8 83.3,71 L41.7,71 Q38.4,70.8 37.2,67 Z" fill="#4e4f52"/>
<rect x="42.1" y="59.3" width="40.8" height="7.4" rx="1" ry="1" fill="#fff"/>
<path d="M16.4,63.8 L28.2,65.2 Q29.4,65.6 29.3,67.2 Q29,68.6 27.6,68.5 L17.6,67.5 Q16,67 15.9,65.4 Q15.9,64 16.4,63.8 Z" fill="#55565a"/>
<path d="M98.8,65.6 L110.3,63.8 Q111.2,64 111.1,65.6 Q110.9,67.2 109.7,67.4 L99.6,68.7 Q98.2,68.7 98,67.3 Q97.9,65.9 98.8,65.6 Z" fill="#55565a"/>
<path d="M10.8,23.4 Q10.9,22.6 12,22.4 L19.8,21.6 Q20.9,21.7 20.9,22.8 L20.5,28.2 Q20.2,29.3 19,29.4 L12,29.2 Q10.7,29 10.7,27.8 Z" fill="#5a5b5e"/>
<path d="M16.5,21.9 L19.8,21.6 Q20.9,21.7 20.9,22.8 L20.5,28.2 Q20.2,29.3 19,29.4 L16.2,29.3 Z" fill="#6c6d70"/>
<path d="M20.7,26.3 L24,27.6 L23.4,28.6 L20.5,28 Z" fill="#77787b"/>
<path d="M104.1,23.3 Q104.3,22 106,21.9 L109.2,21.9 Q112.6,22.6 114.2,25 Q115.2,26.8 114.6,28.8 Q113.8,30.6 111.3,30.4 L107.4,30 Q105.2,29.4 104.6,27.6 Z" fill="#6e6f72"/>
<path d="M104.5,26.3 L101.2,27.6 L101.8,28.6 L104.5,28 Z" fill="#77787b"/>
<path d="M26.2,20 L99.6,20 Q101.6,24 102.3,27.9 L23.5,27.9 Q24.2,24 26.2,20 Z" fill="#5b5c5f"/>
<path d="M24.1,25.5 L101.7,25.5 L102.3,27.9 L23.5,27.9 Z" fill="#4a4b4e"/>
<path d="M23.4,27.7 C24.7,22.5 29.5,13.5 35.3,10.6 Q37.4,9.7 40.5,9.65 Q62.9,9.2 86,9.65 Q89.2,9.7 90.8,11 C94.5,14.2 100.8,22.5 103.1,27.7" fill="none" stroke="#56575b" stroke-width="1.6" stroke-linejoin="round"/>
<path d="M25.7,27.6 C27,23 31,15.2 36,12.6 Q37.8,11.8 40.6,11.7 Q62.9,11.3 85.6,11.7 Q88.4,11.8 89.8,13 C93,15.8 98.6,23 100.8,27.6" fill="none" stroke="#77787b" stroke-width="0.45"/>
</g>
</g></svg>
<div class="lbl" style="left:535.4px;color:#fff;-webkit-text-stroke:0.4px #a7a9ac;letter-spacing:1.45px">Silver</div>
<div class="bar" style="left:651.0px;top:1431.4px;height:643.5999999999999px;background:#b32025"></div>
<div class="pct" style="left:589.0px;top:1277.5px"><span class="dg">7</span><span class="pc">%</span></div>
<svg class="car" style="left:628.8px;top:1335.25px" width="125" height="95" viewBox="0 0 125 95"><g>
<ellipse cx="60.5" cy="86.3" rx="59.8" ry="1.9" fill="#d3cccd"/>
<g transform="translate(9.9,0) scale(0.9895,1) translate(-9.9,0)">
<path d="M10.9,70 L27.1,70 L27.1,80 Q27.1,84.7 22.5,84.7 L15.5,84.7 Q10.9,84.7 10.9,80 Z" fill="#4b4b4e"/>
<path d="M98.4,70 L115,70 L115,80 Q115,84.7 110.4,84.7 L103,84.7 Q98.4,84.7 98.4,80 Z" fill="#4b4b4e"/>
<path d="M10.9,74 L10.9,80 Q10.9,84.7 15.5,84.7 L17,84.7 Q12.6,83.5 12.4,74 Z" fill="#2e2e30"/>
<path d="M115,74 L115,80 Q115,84.7 110.4,84.7 L109,84.7 Q113.4,83.5 113.5,74 Z" fill="#2e2e30"/>
<path d="M10.4,73.3 L10.2,45.5 Q10.3,43 11.5,42 L16.7,37.5 L22.8,28 L102.2,28 L108.6,37.5 L114.2,42 Q115.4,43 115.5,45.5 L115.5,72.6 Q115.4,74.1 113.5,74.2 L98.3,74.6 L61.7,75 L27.5,74.6 L12.3,74.2 Q10.5,74.1 10.4,72.6 Z" fill="#77787b"/>
<path d="M10.4,72.6 L115.5,72.6 Q115.4,74.1 113.5,74.2 L98.3,74.6 L61.7,75 L27.5,74.6 L12.3,74.2 Q10.5,74.1 10.4,72.6 Z" fill="#6d6e71"/>
<path d="M16.7,37.5 L22.8,28 L25,28.5 Q27,36 33,41 L25,40 Q20,38 16.7,37.5 Z" fill="#8d8e91"/>
<path d="M108.6,37.5 L102.2,28 L100.5,28.5 Q98.5,36 92.5,41 L100.5,40 Q105.5,38 108.6,37.5 Z" fill="#8d8e91"/>
<path d="M24.2,28.3 L101,28.3 Q98,38.5 86.5,43.6 L38.8,43.6 Q27,38.5 24.2,28.3 Z" fill="#737477"/>
<path d="M63,28.3 L101,28.3 Q98,38.5 86.5,43.6 L62,43.6 Z" fill="#7b7c7f"/>
<path d="M24.2,28.3 Q27,38.5 38.8,43.6 M101,28.3 Q98,38.5 86.5,43.6" fill="none" stroke="#5f6063" stroke-width="0.5"/>
<path d="M33,31.3 L61.7,31.3 L61.3,36.3 L42,36.8 Q35,36.5 33,31.3 Z" fill="#9d9ea1"/>
<path d="M13.5,43.5 L17,38.5 Q28,39.5 37,48 L36,55 L26,54.5 L15,49 Z" fill="#67686b"/>
<path d="M112.6,44 L109.2,39.3 Q98,40 88,49 L88.4,55.2 L99.8,54.9 L111,49.5 Z" fill="#67686b"/>
<path d="M15,44.2 Q15.3,41.3 17.2,40.3 Q18.8,39.5 21,40.2 Q27,41.8 31,45.4 Q34.4,48.6 35,53.8 Q30,53.9 26.5,53 Q20.5,51.5 16.5,48.2 Q15,46.5 15,44.2 Z" fill="#e6e7e8"/>
<path d="M89.1,52 Q90.5,50 92.5,48.1 Q95,45.6 98.5,43.7 Q101.5,42 104.7,41.1 Q106.5,40.6 108.2,40.7 Q110.3,41.2 110.9,42.9 Q111.6,44.4 111.3,45.9 Q110.8,47.8 109,49.4 Q107,51 104.7,52 Q101.8,53.1 98.5,53.7 Q95,54.2 92.5,54.1 Q90.6,54 89.8,53.3 Q89,52.8 89.1,52 Z" fill="#e6e7e8"/>
<circle cx="20.4" cy="47.1" r="2.9" fill="#fff" stroke="#8e8f92" stroke-width="0.6"/>
<circle cx="30.8" cy="49.7" r="1.8" fill="#fff" stroke="#9a9b9e" stroke-width="0.45"/>
<circle cx="105.1" cy="48.1" r="2.9" fill="#fff" stroke="#8e8f92" stroke-width="0.6"/>
<circle cx="95.9" cy="49.4" r="1.8" fill="#fff" stroke="#9a9b9e" stroke-width="0.45"/>
<path d="M40,43.6 Q62.5,42.9 85,43.6 Q86.6,44.5 86.2,47 Q85.5,50.5 83.3,52.6 Q74,56.6 62.5,57.8 Q51,56.6 41.7,52.6 Q39.3,50.5 38.6,47 Q38.3,44.5 40,43.6 Z" fill="#58595c" stroke="#e9e9ea" stroke-width="0.55"/>
<path d="M39,46.25 L86,46.25" stroke="#ebebed" stroke-width="1.3" fill="none"/><path d="M39.9,49.45 L85.1,49.45 M42.3,52.55 L82.7,52.55" stroke="#ebebed" stroke-width="1.05" fill="none"/>
<path d="M36.6,63.2 L88.4,63.2 L87.8,67 Q86.6,70.8 83.3,71 L41.7,71 Q38.4,70.8 37.2,67 Z" fill="#4e4f52"/>
<rect x="42.1" y="59.3" width="40.8" height="7.4" rx="1" ry="1" fill="#fff"/>
<path d="M16.4,63.8 L28.2,65.2 Q29.4,65.6 29.3,67.2 Q29,68.6 27.6,68.5 L17.6,67.5 Q16,67 15.9,65.4 Q15.9,64 16.4,63.8 Z" fill="#55565a"/>
<path d="M98.8,65.6 L110.3,63.8 Q111.2,64 111.1,65.6 Q110.9,67.2 109.7,67.4 L99.6,68.7 Q98.2,68.7 98,67.3 Q97.9,65.9 98.8,65.6 Z" fill="#55565a"/>
<path d="M10.8,23.4 Q10.9,22.6 12,22.4 L19.8,21.6 Q20.9,21.7 20.9,22.8 L20.5,28.2 Q20.2,29.3 19,29.4 L12,29.2 Q10.7,29 10.7,27.8 Z" fill="#5a5b5e"/>
<path d="M16.5,21.9 L19.8,21.6 Q20.9,21.7 20.9,22.8 L20.5,28.2 Q20.2,29.3 19,29.4 L16.2,29.3 Z" fill="#6c6d70"/>
<path d="M20.7,26.3 L24,27.6 L23.4,28.6 L20.5,28 Z" fill="#77787b"/>
<path d="M104.1,23.3 Q104.3,22 106,21.9 L109.2,21.9 Q112.6,22.6 114.2,25 Q115.2,26.8 114.6,28.8 Q113.8,30.6 111.3,30.4 L107.4,30 Q105.2,29.4 104.6,27.6 Z" fill="#6e6f72"/>
<path d="M104.5,26.3 L101.2,27.6 L101.8,28.6 L104.5,28 Z" fill="#77787b"/>
<path d="M26.2,20 L99.6,20 Q101.6,24 102.3,27.9 L23.5,27.9 Q24.2,24 26.2,20 Z" fill="#5b5c5f"/>
<path d="M24.1,25.5 L101.7,25.5 L102.3,27.9 L23.5,27.9 Z" fill="#4a4b4e"/>
<path d="M23.4,27.7 C24.7,22.5 29.5,13.5 35.3,10.6 Q37.4,9.7 40.5,9.65 Q62.9,9.2 86,9.65 Q89.2,9.7 90.8,11 C94.5,14.2 100.8,22.5 103.1,27.7" fill="none" stroke="#56575b" stroke-width="1.6" stroke-linejoin="round"/>
<path d="M25.7,27.6 C27,23 31,15.2 36,12.6 Q37.8,11.8 40.6,11.7 Q62.9,11.3 85.6,11.7 Q88.4,11.8 89.8,13 C93,15.8 98.6,23 100.8,27.6" fill="none" stroke="#77787b" stroke-width="0.45"/>
</g>
</g></svg>
<div class="lbl" style="left:668.9px;color:#fff;-webkit-text-stroke:0.4px #b32025;letter-spacing:1.3px">Red</div>
<div class="bar" style="left:785.0px;top:1477.0px;height:598.0px;background:#866531"></div>
<div class="pct" style="left:722.5px;top:1320.5px"><span class="dg">6</span><span class="pc">%</span></div>
<svg class="car" style="left:762.3px;top:1378.25px" width="125" height="95" viewBox="0 0 125 95"><g>
<ellipse cx="60.5" cy="86.3" rx="59.8" ry="1.9" fill="#d3cccd"/>
<g transform="translate(9.9,0) scale(0.9895,1) translate(-9.9,0)">
<path d="M10.9,70 L27.1,70 L27.1,80 Q27.1,84.7 22.5,84.7 L15.5,84.7 Q10.9,84.7 10.9,80 Z" fill="#4b4b4e"/>
<path d="M98.4,70 L115,70 L115,80 Q115,84.7 110.4,84.7 L103,84.7 Q98.4,84.7 98.4,80 Z" fill="#4b4b4e"/>
<path d="M10.9,74 L10.9,80 Q10.9,84.7 15.5,84.7 L17,84.7 Q12.6,83.5 12.4,74 Z" fill="#2e2e30"/>
<path d="M115,74 L115,80 Q115,84.7 110.4,84.7 L109,84.7 Q113.4,83.5 113.5,74 Z" fill="#2e2e30"/>
<path d="M10.4,73.3 L10.2,45.5 Q10.3,43 11.5,42 L16.7,37.5 L22.8,28 L102.2,28 L108.6,37.5 L114.2,42 Q115.4,43 115.5,45.5 L115.5,72.6 Q115.4,74.1 113.5,74.2 L98.3,74.6 L61.7,75 L27.5,74.6 L12.3,74.2 Q10.5,74.1 10.4,72.6 Z" fill="#77787b"/>
<path d="M10.4,72.6 L115.5,72.6 Q115.4,74.1 113.5,74.2 L98.3,74.6 L61.7,75 L27.5,74.6 L12.3,74.2 Q10.5,74.1 10.4,72.6 Z" fill="#6d6e71"/>
<path d="M16.7,37.5 L22.8,28 L25,28.5 Q27,36 33,41 L25,40 Q20,38 16.7,37.5 Z" fill="#8d8e91"/>
<path d="M108.6,37.5 L102.2,28 L100.5,28.5 Q98.5,36 92.5,41 L100.5,40 Q105.5,38 108.6,37.5 Z" fill="#8d8e91"/>
<path d="M24.2,28.3 L101,28.3 Q98,38.5 86.5,43.6 L38.8,43.6 Q27,38.5 24.2,28.3 Z" fill="#737477"/>
<path d="M63,28.3 L101,28.3 Q98,38.5 86.5,43.6 L62,43.6 Z" fill="#7b7c7f"/>
<path d="M24.2,28.3 Q27,38.5 38.8,43.6 M101,28.3 Q98,38.5 86.5,43.6" fill="none" stroke="#5f6063" stroke-width="0.5"/>
<path d="M33,31.3 L61.7,31.3 L61.3,36.3 L42,36.8 Q35,36.5 33,31.3 Z" fill="#9d9ea1"/>
<path d="M13.5,43.5 L17,38.5 Q28,39.5 37,48 L36,55 L26,54.5 L15,49 Z" fill="#67686b"/>
<path d="M112.6,44 L109.2,39.3 Q98,40 88,49 L88.4,55.2 L99.8,54.9 L111,49.5 Z" fill="#67686b"/>
<path d="M15,44.2 Q15.3,41.3 17.2,40.3 Q18.8,39.5 21,40.2 Q27,41.8 31,45.4 Q34.4,48.6 35,53.8 Q30,53.9 26.5,53 Q20.5,51.5 16.5,48.2 Q15,46.5 15,44.2 Z" fill="#e6e7e8"/>
<path d="M89.1,52 Q90.5,50 92.5,48.1 Q95,45.6 98.5,43.7 Q101.5,42 104.7,41.1 Q106.5,40.6 108.2,40.7 Q110.3,41.2 110.9,42.9 Q111.6,44.4 111.3,45.9 Q110.8,47.8 109,49.4 Q107,51 104.7,52 Q101.8,53.1 98.5,53.7 Q95,54.2 92.5,54.1 Q90.6,54 89.8,53.3 Q89,52.8 89.1,52 Z" fill="#e6e7e8"/>
<circle cx="20.4" cy="47.1" r="2.9" fill="#fff" stroke="#8e8f92" stroke-width="0.6"/>
<circle cx="30.8" cy="49.7" r="1.8" fill="#fff" stroke="#9a9b9e" stroke-width="0.45"/>
<circle cx="105.1" cy="48.1" r="2.9" fill="#fff" stroke="#8e8f92" stroke-width="0.6"/>
<circle cx="95.9" cy="49.4" r="1.8" fill="#fff" stroke="#9a9b9e" stroke-width="0.45"/>
<path d="M40,43.6 Q62.5,42.9 85,43.6 Q86.6,44.5 86.2,47 Q85.5,50.5 83.3,52.6 Q74,56.6 62.5,57.8 Q51,56.6 41.7,52.6 Q39.3,50.5 38.6,47 Q38.3,44.5 40,43.6 Z" fill="#58595c" stroke="#e9e9ea" stroke-width="0.55"/>
<path d="M39,46.25 L86,46.25" stroke="#ebebed" stroke-width="1.3" fill="none"/><path d="M39.9,49.45 L85.1,49.45 M42.3,52.55 L82.7,52.55" stroke="#ebebed" stroke-width="1.05" fill="none"/>
<path d="M36.6,63.2 L88.4,63.2 L87.8,67 Q86.6,70.8 83.3,71 L41.7,71 Q38.4,70.8 37.2,67 Z" fill="#4e4f52"/>
<rect x="42.1" y="59.3" width="40.8" height="7.4" rx="1" ry="1" fill="#fff"/>
<path d="M16.4,63.8 L28.2,65.2 Q29.4,65.6 29.3,67.2 Q29,68.6 27.6,68.5 L17.6,67.5 Q16,67 15.9,65.4 Q15.9,64 16.4,63.8 Z" fill="#55565a"/>
<path d="M98.8,65.6 L110.3,63.8 Q111.2,64 111.1,65.6 Q110.9,67.2 109.7,67.4 L99.6,68.7 Q98.2,68.7 98,67.3 Q97.9,65.9 98.8,65.6 Z" fill="#55565a"/>
<path d="M10.8,23.4 Q10.9,22.6 12,22.4 L19.8,21.6 Q20.9,21.7 20.9,22.8 L20.5,28.2 Q20.2,29.3 19,29.4 L12,29.2 Q10.7,29 10.7,27.8 Z" fill="#5a5b5e"/>
<path d="M16.5,21.9 L19.8,21.6 Q20.9,21.7 20.9,22.8 L20.5,28.2 Q20.2,29.3 19,29.4 L16.2,29.3 Z" fill="#6c6d70"/>
<path d="M20.7,26.3 L24,27.6 L23.4,28.6 L20.5,28 Z" fill="#77787b"/>
<path d="M104.1,23.3 Q104.3,22 106,21.9 L109.2,21.9 Q112.6,22.6 114.2,25 Q115.2,26.8 114.6,28.8 Q113.8,30.6 111.3,30.4 L107.4,30 Q105.2,29.4 104.6,27.6 Z" fill="#6e6f72"/>
<path d="M104.5,26.3 L101.2,27.6 L101.8,28.6 L104.5,28 Z" fill="#77787b"/>
<path d="M26.2,20 L99.6,20 Q101.6,24 102.3,27.9 L23.5,27.9 Q24.2,24 26.2,20 Z" fill="#5b5c5f"/>
<path d="M24.1,25.5 L101.7,25.5 L102.3,27.9 L23.5,27.9 Z" fill="#4a4b4e"/>
<path d="M23.4,27.7 C24.7,22.5 29.5,13.5 35.3,10.6 Q37.4,9.7 40.5,9.65 Q62.9,9.2 86,9.65 Q89.2,9.7 90.8,11 C94.5,14.2 100.8,22.5 103.1,27.7" fill="none" stroke="#56575b" stroke-width="1.6" stroke-linejoin="round"/>
<path d="M25.7,27.6 C27,23 31,15.2 36,12.6 Q37.8,11.8 40.6,11.7 Q62.9,11.3 85.6,11.7 Q88.4,11.8 89.8,13 C93,15.8 98.6,23 100.8,27.6" fill="none" stroke="#77787b" stroke-width="0.45"/>
</g>
</g></svg>
<div class="lbl" style="left:802.4px;color:#fff;-webkit-text-stroke:0.4px #866531;letter-spacing:2.9px">Brown/Beige</div>
<div class="bar" style="left:918.0px;top:1542.0px;height:533.0px;background:#376f90"></div>
<div class="pct" style="left:855.5px;top:1387.5px"><span class="dg">5</span><span class="pc">%</span></div>
<svg class="car" style="left:895.3px;top:1445.25px" width="125" height="95" viewBox="0 0 125 95"><g>
<ellipse cx="60.5" cy="86.3" rx="59.8" ry="1.9" fill="#d3cccd"/>
<g transform="translate(9.9,0) scale(0.9895,1) translate(-9.9,0)">
<path d="M10.9,70 L27.1,70 L27.1,80 Q27.1,84.7 22.5,84.7 L15.5,84.7 Q10.9,84.7 10.9,80 Z" fill="#4b4b4e"/>
<path d="M98.4,70 L115,70 L115,80 Q115,84.7 110.4,84.7 L103,84.7 Q98.4,84.7 98.4,80 Z" fill="#4b4b4e"/>
<path d="M10.9,74 L10.9,80 Q10.9,84.7 15.5,84.7 L17,84.7 Q12.6,83.5 12.4,74 Z" fill="#2e2e30"/>
<path d="M115,74 L115,80 Q115,84.7 110.4,84.7 L109,84.7 Q113.4,83.5 113.5,74 Z" fill="#2e2e30"/>
<path d="M10.4,73.3 L10.2,45.5 Q10.3,43 11.5,42 L16.7,37.5 L22.8,28 L102.2,28 L108.6,37.5 L114.2,42 Q115.4,43 115.5,45.5 L115.5,72.6 Q115.4,74.1 113.5,74.2 L98.3,74.6 L61.7,75 L27.5,74.6 L12.3,74.2 Q10.5,74.1 10.4,72.6 Z" fill="#77787b"/>
<path d="M10.4,72.6 L115.5,72.6 Q115.4,74.1 113.5,74.2 L98.3,74.6 L61.7,75 L27.5,74.6 L12.3,74.2 Q10.5,74.1 10.4,72.6 Z" fill="#6d6e71"/>
<path d="M16.7,37.5 L22.8,28 L25,28.5 Q27,36 33,41 L25,40 Q20,38 16.7,37.5 Z" fill="#8d8e91"/>
<path d="M108.6,37.5 L102.2,28 L100.5,28.5 Q98.5,36 92.5,41 L100.5,40 Q105.5,38 108.6,37.5 Z" fill="#8d8e91"/>
<path d="M24.2,28.3 L101,28.3 Q98,38.5 86.5,43.6 L38.8,43.6 Q27,38.5 24.2,28.3 Z" fill="#737477"/>
<path d="M63,28.3 L101,28.3 Q98,38.5 86.5,43.6 L62,43.6 Z" fill="#7b7c7f"/>
<path d="M24.2,28.3 Q27,38.5 38.8,43.6 M101,28.3 Q98,38.5 86.5,43.6" fill="none" stroke="#5f6063" stroke-width="0.5"/>
<path d="M33,31.3 L61.7,31.3 L61.3,36.3 L42,36.8 Q35,36.5 33,31.3 Z" fill="#9d9ea1"/>
<path d="M13.5,43.5 L17,38.5 Q28,39.5 37,48 L36,55 L26,54.5 L15,49 Z" fill="#67686b"/>
<path d="M112.6,44 L109.2,39.3 Q98,40 88,49 L88.4,55.2 L99.8,54.9 L111,49.5 Z" fill="#67686b"/>
<path d="M15,44.2 Q15.3,41.3 17.2,40.3 Q18.8,39.5 21,40.2 Q27,41.8 31,45.4 Q34.4,48.6 35,53.8 Q30,53.9 26.5,53 Q20.5,51.5 16.5,48.2 Q15,46.5 15,44.2 Z" fill="#e6e7e8"/>
<path d="M89.1,52 Q90.5,50 92.5,48.1 Q95,45.6 98.5,43.7 Q101.5,42 104.7,41.1 Q106.5,40.6 108.2,40.7 Q110.3,41.2 110.9,42.9 Q111.6,44.4 111.3,45.9 Q110.8,47.8 109,49.4 Q107,51 104.7,52 Q101.8,53.1 98.5,53.7 Q95,54.2 92.5,54.1 Q90.6,54 89.8,53.3 Q89,52.8 89.1,52 Z" fill="#e6e7e8"/>
<circle cx="20.4" cy="47.1" r="2.9" fill="#fff" stroke="#8e8f92" stroke-width="0.6"/>
<circle cx="30.8" cy="49.7" r="1.8" fill="#fff" stroke="#9a9b9e" stroke-width="0.45"/>
<circle cx="105.1" cy="48.1" r="2.9" fill="#fff" stroke="#8e8f92" stroke-width="0.6"/>
<circle cx="95.9" cy="49.4" r="1.8" fill="#fff" stroke="#9a9b9e" stroke-width="0.45"/>
<path d="M40,43.6 Q62.5,42.9 85,43.6 Q86.6,44.5 86.2,47 Q85.5,50.5 83.3,52.6 Q74,56.6 62.5,57.8 Q51,56.6 41.7,52.6 Q39.3,50.5 38.6,47 Q38.3,44.5 40,43.6 Z" fill="#58595c" stroke="#e9e9ea" stroke-width="0.55"/>
<path d="M39,46.25 L86,46.25" stroke="#ebebed" stroke-width="1.3" fill="none"/><path d="M39.9,49.45 L85.1,49.45 M42.3,52.55 L82.7,52.55" stroke="#ebebed" stroke-width="1.05" fill="none"/>
<path d="M36.6,63.2 L88.4,63.2 L87.8,67 Q86.6,70.8 83.3,71 L41.7,71 Q38.4,70.8 37.2,67 Z" fill="#4e4f52"/>
<rect x="42.1" y="59.3" width="40.8" height="7.4" rx="1" ry="1" fill="#fff"/>
<path d="M16.4,63.8 L28.2,65.2 Q29.4,65.6 29.3,67.2 Q29,68.6 27.6,68.5 L17.6,67.5 Q16,67 15.9,65.4 Q15.9,64 16.4,63.8 Z" fill="#55565a"/>
<path d="M98.8,65.6 L110.3,63.8 Q111.2,64 111.1,65.6 Q110.9,67.2 109.7,67.4 L99.6,68.7 Q98.2,68.7 98,67.3 Q97.9,65.9 98.8,65.6 Z" fill="#55565a"/>
<path d="M10.8,23.4 Q10.9,22.6 12,22.4 L19.8,21.6 Q20.9,21.7 20.9,22.8 L20.5,28.2 Q20.2,29.3 19,29.4 L12,29.2 Q10.7,29 10.7,27.8 Z" fill="#5a5b5e"/>
<path d="M16.5,21.9 L19.8,21.6 Q20.9,21.7 20.9,22.8 L20.5,28.2 Q20.2,29.3 19,29.4 L16.2,29.3 Z" fill="#6c6d70"/>
<path d="M20.7,26.3 L24,27.6 L23.4,28.6 L20.5,28 Z" fill="#77787b"/>
<path d="M104.1,23.3 Q104.3,22 106,21.9 L109.2,21.9 Q112.6,22.6 114.2,25 Q115.2,26.8 114.6,28.8 Q113.8,30.6 111.3,30.4 L107.4,30 Q105.2,29.4 104.6,27.6 Z" fill="#6e6f72"/>
<path d="M104.5,26.3 L101.2,27.6 L101.8,28.6 L104.5,28 Z" fill="#77787b"/>
<path d="M26.2,20 L99.6,20 Q101.6,24 102.3,27.9 L23.5,27.9 Q24.2,24 26.2,20 Z" fill="#5b5c5f"/>
<path d="M24.1,25.5 L101.7,25.5 L102.3,27.9 L23.5,27.9 Z" fill="#4a4b4e"/>
<path d="M23.4,27.7 C24.7,22.5 29.5,13.5 35.3,10.6 Q37.4,9.7 40.5,9.65 Q62.9,9.2 86,9.65 Q89.2,9.7 90.8,11 C94.5,14.2 100.8,22.5 103.1,27.7" fill="none" stroke="#56575b" stroke-width="1.6" stroke-linejoin="round"/>
<path d="M25.7,27.6 C27,23 31,15.2 36,12.6 Q37.8,11.8 40.6,11.7 Q62.9,11.3 85.6,11.7 Q88.4,11.8 89.8,13 C93,15.8 98.6,23 100.8,27.6" fill="none" stroke="#77787b" stroke-width="0.45"/>
</g>
</g></svg>
<div class="lbl" style="left:935.4px;color:#fff;-webkit-text-stroke:0.4px #376f90;letter-spacing:1.6px">Blue</div>
<div class="bar" style="left:1051.0px;top:1917.0px;height:158.0px;background:#55632c"></div>
<div class="pct" style="left:989.0px;top:1760.7px"><span class="one">1</span><span class="pc">%</span></div>
<svg class="car" style="left:1028.8px;top:1818.45px" width="125" height="95" viewBox="0 0 125 95"><g>
<ellipse cx="60.5" cy="86.3" rx="59.8" ry="1.9" fill="#d3cccd"/>
<g transform="translate(9.9,0) scale(0.9895,1) translate(-9.9,0)">
<path d="M10.9,70 L27.1,70 L27.1,80 Q27.1,84.7 22.5,84.7 L15.5,84.7 Q10.9,84.7 10.9,80 Z" fill="#4b4b4e"/>
<path d="M98.4,70 L115,70 L115,80 Q115,84.7 110.4,84.7 L103,84.7 Q98.4,84.7 98.4,80 Z" fill="#4b4b4e"/>
<path d="M10.9,74 L10.9,80 Q10.9,84.7 15.5,84.7 L17,84.7 Q12.6,83.5 12.4,74 Z" fill="#2e2e30"/>
<path d="M115,74 L115,80 Q115,84.7 110.4,84.7 L109,84.7 Q113.4,83.5 113.5,74 Z" fill="#2e2e30"/>
<path d="M10.4,73.3 L10.2,45.5 Q10.3,43 11.5,42 L16.7,37.5 L22.8,28 L102.2,28 L108.6,37.5 L114.2,42 Q115.4,43 115.5,45.5 L115.5,72.6 Q115.4,74.1 113.5,74.2 L98.3,74.6 L61.7,75 L27.5,74.6 L12.3,74.2 Q10.5,74.1 10.4,72.6 Z" fill="#77787b"/>
<path d="M10.4,72.6 L115.5,72.6 Q115.4,74.1 113.5,74.2 L98.3,74.6 L61.7,75 L27.5,74.6 L12.3,74.2 Q10.5,74.1 10.4,72.6 Z" fill="#6d6e71"/>
<path d="M16.7,37.5 L22.8,28 L25,28.5 Q27,36 33,41 L25,40 Q20,38 16.7,37.5 Z" fill="#8d8e91"/>
<path d="M108.6,37.5 L102.2,28 L100.5,28.5 Q98.5,36 92.5,41 L100.5,40 Q105.5,38 108.6,37.5 Z" fill="#8d8e91"/>
<path d="M24.2,28.3 L101,28.3 Q98,38.5 86.5,43.6 L38.8,43.6 Q27,38.5 24.2,28.3 Z" fill="#737477"/>
<path d="M63,28.3 L101,28.3 Q98,38.5 86.5,43.6 L62,43.6 Z" fill="#7b7c7f"/>
<path d="M24.2,28.3 Q27,38.5 38.8,43.6 M101,28.3 Q98,38.5 86.5,43.6" fill="none" stroke="#5f6063" stroke-width="0.5"/>
<path d="M33,31.3 L61.7,31.3 L61.3,36.3 L42,36.8 Q35,36.5 33,31.3 Z" fill="#9d9ea1"/>
<path d="M13.5,43.5 L17,38.5 Q28,39.5 37,48 L36,55 L26,54.5 L15,49 Z" fill="#67686b"/>
<path d="M112.6,44 L109.2,39.3 Q98,40 88,49 L88.4,55.2 L99.8,54.9 L111,49.5 Z" fill="#67686b"/>
<path d="M15,44.2 Q15.3,41.3 17.2,40.3 Q18.8,39.5 21,40.2 Q27,41.8 31,45.4 Q34.4,48.6 35,53.8 Q30,53.9 26.5,53 Q20.5,51.5 16.5,48.2 Q15,46.5 15,44.2 Z" fill="#e6e7e8"/>
<path d="M89.1,52 Q90.5,50 92.5,48.1 Q95,45.6 98.5,43.7 Q101.5,42 104.7,41.1 Q106.5,40.6 108.2,40.7 Q110.3,41.2 110.9,42.9 Q111.6,44.4 111.3,45.9 Q110.8,47.8 109,49.4 Q107,51 104.7,52 Q101.8,53.1 98.5,53.7 Q95,54.2 92.5,54.1 Q90.6,54 89.8,53.3 Q89,52.8 89.1,52 Z" fill="#e6e7e8"/>
<circle cx="20.4" cy="47.1" r="2.9" fill="#fff" stroke="#8e8f92" stroke-width="0.6"/>
<circle cx="30.8" cy="49.7" r="1.8" fill="#fff" stroke="#9a9b9e" stroke-width="0.45"/>
<circle cx="105.1" cy="48.1" r="2.9" fill="#fff" stroke="#8e8f92" stroke-width="0.6"/>
<circle cx="95.9" cy="49.4" r="1.8" fill="#fff" stroke="#9a9b9e" stroke-width="0.45"/>
<path d="M40,43.6 Q62.5,42.9 85,43.6 Q86.6,44.5 86.2,47 Q85.5,50.5 83.3,52.6 Q74,56.6 62.5,57.8 Q51,56.6 41.7,52.6 Q39.3,50.5 38.6,47 Q38.3,44.5 40,43.6 Z" fill="#58595c" stroke="#e9e9ea" stroke-width="0.55"/>
<path d="M39,46.25 L86,46.25" stroke="#ebebed" stroke-width="1.3" fill="none"/><path d="M39.9,49.45 L85.1,49.45 M42.3,52.55 L82.7,52.55" stroke="#ebebed" stroke-width="1.05" fill="none"/>
<path d="M36.6,63.2 L88.4,63.2 L87.8,67 Q86.6,70.8 83.3,71 L41.7,71 Q38.4,70.8 37.2,67 Z" fill="#4e4f52"/>
<rect x="42.1" y="59.3" width="40.8" height="7.4" rx="1" ry="1" fill="#fff"/>
<path d="M16.4,63.8 L28.2,65.2 Q29.4,65.6 29.3,67.2 Q29,68.6 27.6,68.5 L17.6,67.5 Q16,67 15.9,65.4 Q15.9,64 16.4,63.8 Z" fill="#55565a"/>
<path d="M98.8,65.6 L110.3,63.8 Q111.2,64 111.1,65.6 Q110.9,67.2 109.7,67.4 L99.6,68.7 Q98.2,68.7 98,67.3 Q97.9,65.9 98.8,65.6 Z" fill="#55565a"/>
<path d="M10.8,23.4 Q10.9,22.6 12,22.4 L19.8,21.6 Q20.9,21.7 20.9,22.8 L20.5,28.2 Q20.2,29.3 19,29.4 L12,29.2 Q10.7,29 10.7,27.8 Z" fill="#5a5b5e"/>
<path d="M16.5,21.9 L19.8,21.6 Q20.9,21.7 20.9,22.8 L20.5,28.2 Q20.2,29.3 19,29.4 L16.2,29.3 Z" fill="#6c6d70"/>
<path d="M20.7,26.3 L24,27.6 L23.4,28.6 L20.5,28 Z" fill="#77787b"/>
<path d="M104.1,23.3 Q104.3,22 106,21.9 L109.2,21.9 Q112.6,22.6 114.2,25 Q115.2,26.8 114.6,28.8 Q113.8,30.6 111.3,30.4 L107.4,30 Q105.2,29.4 104.6,27.6 Z" fill="#6e6f72"/>
<path d="M104.5,26.3 L101.2,27.6 L101.8,28.6 L104.5,28 Z" fill="#77787b"/>
<path d="M26.2,20 L99.6,20 Q101.6,24 102.3,27.9 L23.5,27.9 Q24.2,24 26.2,20 Z" fill="#5b5c5f"/>
<path d="M24.1,25.5 L101.7,25.5 L102.3,27.9 L23.5,27.9 Z" fill="#4a4b4e"/>
<path d="M23.4,27.7 C24.7,22.5 29.5,13.5 35.3,10.6 Q37.4,9.7 40.5,9.65 Q62.9,9.2 86,9.65 Q89.2,9.7 90.8,11 C94.5,14.2 100.8,22.5 103.1,27.7" fill="none" stroke="#56575b" stroke-width="1.6" stroke-linejoin="round"/>
<path d="M25.7,27.6 C27,23 31,15.2 36,12.6 Q37.8,11.8 40.6,11.7 Q62.9,11.3 85.6,11.7 Q88.4,11.8 89.8,13 C93,15.8 98.6,23 100.8,27.6" fill="none" stroke="#77787b" stroke-width="0.45"/>
</g>
</g></svg>
<div class="lbl" style="left:1068.9px;color:#fff;-webkit-text-stroke:0.4px #55632c;letter-spacing:1.5px">Green</div>
<div class="bar" style="left:1185.0px;top:1919.0px;height:156.0px;background:#c9b576"></div>
<div class="pct" style="left:1122.5px;top:1760.7px"><span class="one">1</span><span class="pc">%</span></div>
<svg class="car" style="left:1162.3px;top:1818.45px" width="125" height="95" viewBox="0 0 125 95"><g>
<ellipse cx="60.5" cy="86.3" rx="59.8" ry="1.9" fill="#d3cccd"/>
<g transform="translate(9.9,0) scale(0.9895,1) translate(-9.9,0)">
<path d="M10.9,70 L27.1,70 L27.1,80 Q27.1,84.7 22.5,84.7 L15.5,84.7 Q10.9,84.7 10.9,80 Z" fill="#4b4b4e"/>
<path d="M98.4,70 L115,70 L115,80 Q115,84.7 110.4,84.7 L103,84.7 Q98.4,84.7 98.4,80 Z" fill="#4b4b4e"/>
<path d="M10.9,74 L10.9,80 Q10.9,84.7 15.5,84.7 L17,84.7 Q12.6,83.5 12.4,74 Z" fill="#2e2e30"/>
<path d="M115,74 L115,80 Q115,84.7 110.4,84.7 L109,84.7 Q113.4,83.5 113.5,74 Z" fill="#2e2e30"/>
<path d="M10.4,73.3 L10.2,45.5 Q10.3,43 11.5,42 L16.7,37.5 L22.8,28 L102.2,28 L108.6,37.5 L114.2,42 Q115.4,43 115.5,45.5 L115.5,72.6 Q115.4,74.1 113.5,74.2 L98.3,74.6 L61.7,75 L27.5,74.6 L12.3,74.2 Q10.5,74.1 10.4,72.6 Z" fill="#77787b"/>
<path d="M10.4,72.6 L115.5,72.6 Q115.4,74.1 113.5,74.2 L98.3,74.6 L61.7,75 L27.5,74.6 L12.3,74.2 Q10.5,74.1 10.4,72.6 Z" fill="#6d6e71"/>
<path d="M16.7,37.5 L22.8,28 L25,28.5 Q27,36 33,41 L25,40 Q20,38 16.7,37.5 Z" fill="#8d8e91"/>
<path d="M108.6,37.5 L102.2,28 L100.5,28.5 Q98.5,36 92.5,41 L100.5,40 Q105.5,38 108.6,37.5 Z" fill="#8d8e91"/>
<path d="M24.2,28.3 L101,28.3 Q98,38.5 86.5,43.6 L38.8,43.6 Q27,38.5 24.2,28.3 Z" fill="#737477"/>
<path d="M63,28.3 L101,28.3 Q98,38.5 86.5,43.6 L62,43.6 Z" fill="#7b7c7f"/>
<path d="M24.2,28.3 Q27,38.5 38.8,43.6 M101,28.3 Q98,38.5 86.5,43.6" fill="none" stroke="#5f6063" stroke-width="0.5"/>
<path d="M33,31.3 L61.7,31.3 L61.3,36.3 L42,36.8 Q35,36.5 33,31.3 Z" fill="#9d9ea1"/>
<path d="M13.5,43.5 L17,38.5 Q28,39.5 37,48 L36,55 L26,54.5 L15,49 Z" fill="#67686b"/>
<path d="M112.6,44 L109.2,39.3 Q98,40 88,49 L88.4,55.2 L99.8,54.9 L111,49.5 Z" fill="#67686b"/>
<path d="M15,44.2 Q15.3,41.3 17.2,40.3 Q18.8,39.5 21,40.2 Q27,41.8 31,45.4 Q34.4,48.6 35,53.8 Q30,53.9 26.5,53 Q20.5,51.5 16.5,48.2 Q15,46.5 15,44.2 Z" fill="#e6e7e8"/>
<path d="M89.1,52 Q90.5,50 92.5,48.1 Q95,45.6 98.5,43.7 Q101.5,42 104.7,41.1 Q106.5,40.6 108.2,40.7 Q110.3,41.2 110.9,42.9 Q111.6,44.4 111.3,45.9 Q110.8,47.8 109,49.4 Q107,51 104.7,52 Q101.8,53.1 98.5,53.7 Q95,54.2 92.5,54.1 Q90.6,54 89.8,53.3 Q89,52.8 89.1,52 Z" fill="#e6e7e8"/>
<circle cx="20.4" cy="47.1" r="2.9" fill="#fff" stroke="#8e8f92" stroke-width="0.6"/>
<circle cx="30.8" cy="49.7" r="1.8" fill="#fff" stroke="#9a9b9e" stroke-width="0.45"/>
<circle cx="105.1" cy="48.1" r="2.9" fill="#fff" stroke="#8e8f92" stroke-width="0.6"/>
<circle cx="95.9" cy="49.4" r="1.8" fill="#fff" stroke="#9a9b9e" stroke-width="0.45"/>
<path d="M40,43.6 Q62.5,42.9 85,43.6 Q86.6,44.5 86.2,47 Q85.5,50.5 83.3,52.6 Q74,56.6 62.5,57.8 Q51,56.6 41.7,52.6 Q39.3,50.5 38.6,47 Q38.3,44.5 40,43.6 Z" fill="#58595c" stroke="#e9e9ea" stroke-width="0.55"/>
<path d="M39,46.25 L86,46.25" stroke="#ebebed" stroke-width="1.3" fill="none"/><path d="M39.9,49.45 L85.1,49.45 M42.3,52.55 L82.7,52.55" stroke="#ebebed" stroke-width="1.05" fill="none"/>
<path d="M36.6,63.2 L88.4,63.2 L87.8,67 Q86.6,70.8 83.3,71 L41.7,71 Q38.4,70.8 37.2,67 Z" fill="#4e4f52"/>
<rect x="42.1" y="59.3" width="40.8" height="7.4" rx="1" ry="1" fill="#fff"/>
<path d="M16.4,63.8 L28.2,65.2 Q29.4,65.6 29.3,67.2 Q29,68.6 27.6,68.5 L17.6,67.5 Q16,67 15.9,65.4 Q15.9,64 16.4,63.8 Z" fill="#55565a"/>
<path d="M98.8,65.6 L110.3,63.8 Q111.2,64 111.1,65.6 Q110.9,67.2 109.7,67.4 L99.6,68.7 Q98.2,68.7 98,67.3 Q97.9,65.9 98.8,65.6 Z" fill="#55565a"/>
<path d="M10.8,23.4 Q10.9,22.6 12,22.4 L19.8,21.6 Q20.9,21.7 20.9,22.8 L20.5,28.2 Q20.2,29.3 19,29.4 L12,29.2 Q10.7,29 10.7,27.8 Z" fill="#5a5b5e"/>
<path d="M16.5,21.9 L19.8,21.6 Q20.9,21.7 20.9,22.8 L20.5,28.2 Q20.2,29.3 19,29.4 L16.2,29.3 Z" fill="#6c6d70"/>
<path d="M20.7,26.3 L24,27.6 L23.4,28.6 L20.5,28 Z" fill="#77787b"/>
<path d="M104.1,23.3 Q104.3,22 106,21.9 L109.2,21.9 Q112.6,22.6 114.2,25 Q115.2,26.8 114.6,28.8 Q113.8,30.6 111.3,30.4 L107.4,30 Q105.2,29.4 104.6,27.6 Z" fill="#6e6f72"/>
<path d="M104.5,26.3 L101.2,27.6 L101.8,28.6 L104.5,28 Z" fill="#77787b"/>
<path d="M26.2,20 L99.6,20 Q101.6,24 102.3,27.9 L23.5,27.9 Q24.2,24 26.2,20 Z" fill="#5b5c5f"/>
<path d="M24.1,25.5 L101.7,25.5 L102.3,27.9 L23.5,27.9 Z" fill="#4a4b4e"/>
<path d="M23.4,27.7 C24.7,22.5 29.5,13.5 35.3,10.6 Q37.4,9.7 40.5,9.65 Q62.9,9.2 86,9.65 Q89.2,9.7 90.8,11 C94.5,14.2 100.8,22.5 103.1,27.7" fill="none" stroke="#56575b" stroke-width="1.6" stroke-linejoin="round"/>
<path d="M25.7,27.6 C27,23 31,15.2 36,12.6 Q37.8,11.8 40.6,11.7 Q62.9,11.3 85.6,11.7 Q88.4,11.8 89.8,13 C93,15.8 98.6,23 100.8,27.6" fill="none" stroke="#77787b" stroke-width="0.45"/>
</g>
</g></svg>
<div class="lbl" style="left:1184.2px;color:#fff;-webkit-text-stroke:0.4px #c9b576;letter-spacing:2.9px">Yellow/</div>
<div class="lbl" style="left:1223.2px;color:#fff;-webkit-text-stroke:0.4px #c9b576;letter-spacing:2.4px">Gold</div>
<div class="bar" style="left:1318.0px;top:1750.0px;height:325.0px;background:#f6911e"></div>
<div class="pct" style="left:1255.5px;top:1595.5px"><span class="dg">3</span><span class="pc">%</span></div>
<svg class="car" style="left:1295.3px;top:1653.25px" width="125" height="95" viewBox="0 0 125 95"><g>
<ellipse cx="60.5" cy="86.3" rx="59.8" ry="1.9" fill="#d3cccd"/>
<g transform="translate(9.9,0) scale(0.9895,1) translate(-9.9,0)">
<path d="M10.9,70 L27.1,70 L27.1,80 Q27.1,84.7 22.5,84.7 L15.5,84.7 Q10.9,84.7 10.9,80 Z" fill="#4b4b4e"/>
<path d="M98.4,70 L115,70 L115,80 Q115,84.7 110.4,84.7 L103,84.7 Q98.4,84.7 98.4,80 Z" fill="#4b4b4e"/>
<path d="M10.9,74 L10.9,80 Q10.9,84.7 15.5,84.7 L17,84.7 Q12.6,83.5 12.4,74 Z" fill="#2e2e30"/>
<path d="M115,74 L115,80 Q115,84.7 110.4,84.7 L109,84.7 Q113.4,83.5 113.5,74 Z" fill="#2e2e30"/>
<path d="M10.4,73.3 L10.2,45.5 Q10.3,43 11.5,42 L16.7,37.5 L22.8,28 L102.2,28 L108.6,37.5 L114.2,42 Q115.4,43 115.5,45.5 L115.5,72.6 Q115.4,74.1 113.5,74.2 L98.3,74.6 L61.7,75 L27.5,74.6 L12.3,74.2 Q10.5,74.1 10.4,72.6 Z" fill="#77787b"/>
<path d="M10.4,72.6 L115.5,72.6 Q115.4,74.1 113.5,74.2 L98.3,74.6 L61.7,75 L27.5,74.6 L12.3,74.2 Q10.5,74.1 10.4,72.6 Z" fill="#6d6e71"/>
<path d="M16.7,37.5 L22.8,28 L25,28.5 Q27,36 33,41 L25,40 Q20,38 16.7,37.5 Z" fill="#8d8e91"/>
<path d="M108.6,37.5 L102.2,28 L100.5,28.5 Q98.5,36 92.5,41 L100.5,40 Q105.5,38 108.6,37.5 Z" fill="#8d8e91"/>
<path d="M24.2,28.3 L101,28.3 Q98,38.5 86.5,43.6 L38.8,43.6 Q27,38.5 24.2,28.3 Z" fill="#737477"/>
<path d="M63,28.3 L101,28.3 Q98,38.5 86.5,43.6 L62,43.6 Z" fill="#7b7c7f"/>
<path d="M24.2,28.3 Q27,38.5 38.8,43.6 M101,28.3 Q98,38.5 86.5,43.6" fill="none" stroke="#5f6063" stroke-width="0.5"/>
<path d="M33,31.3 L61.7,31.3 L61.3,36.3 L42,36.8 Q35,36.5 33,31.3 Z" fill="#9d9ea1"/>
<path d="M13.5,43.5 L17,38.5 Q28,39.5 37,48 L36,55 L26,54.5 L15,49 Z" fill="#67686b"/>
<path d="M112.6,44 L109.2,39.3 Q98,40 88,49 L88.4,55.2 L99.8,54.9 L111,49.5 Z" fill="#67686b"/>
<path d="M15,44.2 Q15.3,41.3 17.2,40.3 Q18.8,39.5 21,40.2 Q27,41.8 31,45.4 Q34.4,48.6 35,53.8 Q30,53.9 26.5,53 Q20.5,51.5 16.5,48.2 Q15,46.5 15,44.2 Z" fill="#e6e7e8"/>
<path d="M89.1,52 Q90.5,50 92.5,48.1 Q95,45.6 98.5,43.7 Q101.5,42 104.7,41.1 Q106.5,40.6 108.2,40.7 Q110.3,41.2 110.9,42.9 Q111.6,44.4 111.3,45.9 Q110.8,47.8 109,49.4 Q107,51 104.7,52 Q101.8,53.1 98.5,53.7 Q95,54.2 92.5,54.1 Q90.6,54 89.8,53.3 Q89,52.8 89.1,52 Z" fill="#e6e7e8"/>
<circle cx="20.4" cy="47.1" r="2.9" fill="#fff" stroke="#8e8f92" stroke-width="0.6"/>
<circle cx="30.8" cy="49.7" r="1.8" fill="#fff" stroke="#9a9b9e" stroke-width="0.45"/>
<circle cx="105.1" cy="48.1" r="2.9" fill="#fff" stroke="#8e8f92" stroke-width="0.6"/>
<circle cx="95.9" cy="49.4" r="1.8" fill="#fff" stroke="#9a9b9e" stroke-width="0.45"/>
<path d="M40,43.6 Q62.5,42.9 85,43.6 Q86.6,44.5 86.2,47 Q85.5,50.5 83.3,52.6 Q74,56.6 62.5,57.8 Q51,56.6 41.7,52.6 Q39.3,50.5 38.6,47 Q38.3,44.5 40,43.6 Z" fill="#58595c" stroke="#e9e9ea" stroke-width="0.55"/>
<path d="M39,46.25 L86,46.25" stroke="#ebebed" stroke-width="1.3" fill="none"/><path d="M39.9,49.45 L85.1,49.45 M42.3,52.55 L82.7,52.55" stroke="#ebebed" stroke-width="1.05" fill="none"/>
<path d="M36.6,63.2 L88.4,63.2 L87.8,67 Q86.6,70.8 83.3,71 L41.7,71 Q38.4,70.8 37.2,67 Z" fill="#4e4f52"/>
<rect x="42.1" y="59.3" width="40.8" height="7.4" rx="1" ry="1" fill="#fff"/>
<path d="M16.4,63.8 L28.2,65.2 Q29.4,65.6 29.3,67.2 Q29,68.6 27.6,68.5 L17.6,67.5 Q16,67 15.9,65.4 Q15.9,64 16.4,63.8 Z" fill="#55565a"/>
<path d="M98.8,65.6 L110.3,63.8 Q111.2,64 111.1,65.6 Q110.9,67.2 109.7,67.4 L99.6,68.7 Q98.2,68.7 98,67.3 Q97.9,65.9 98.8,65.6 Z" fill="#55565a"/>
<path d="M10.8,23.4 Q10.9,22.6 12,22.4 L19.8,21.6 Q20.9,21.7 20.9,22.8 L20.5,28.2 Q20.2,29.3 19,29.4 L12,29.2 Q10.7,29 10.7,27.8 Z" fill="#5a5b5e"/>
<path d="M16.5,21.9 L19.8,21.6 Q20.9,21.7 20.9,22.8 L20.5,28.2 Q20.2,29.3 19,29.4 L16.2,29.3 Z" fill="#6c6d70"/>
<path d="M20.7,26.3 L24,27.6 L23.4,28.6 L20.5,28 Z" fill="#77787b"/>
<path d="M104.1,23.3 Q104.3,22 106,21.9 L109.2,21.9 Q112.6,22.6 114.2,25 Q115.2,26.8 114.6,28.8 Q113.8,30.6 111.3,30.4 L107.4,30 Q105.2,29.4 104.6,27.6 Z" fill="#6e6f72"/>
<path d="M104.5,26.3 L101.2,27.6 L101.8,28.6 L104.5,28 Z" fill="#77787b"/>
<path d="M26.2,20 L99.6,20 Q101.6,24 102.3,27.9 L23.5,27.9 Q24.2,24 26.2,20 Z" fill="#5b5c5f"/>
<path d="M24.1,25.5 L101.7,25.5 L102.3,27.9 L23.5,27.9 Z" fill="#4a4b4e"/>
<path d="M23.4,27.7 C24.7,22.5 29.5,13.5 35.3,10.6 Q37.4,9.7 40.5,9.65 Q62.9,9.2 86,9.65 Q89.2,9.7 90.8,11 C94.5,14.2 100.8,22.5 103.1,27.7" fill="none" stroke="#56575b" stroke-width="1.6" stroke-linejoin="round"/>
<path d="M25.7,27.6 C27,23 31,15.2 36,12.6 Q37.8,11.8 40.6,11.7 Q62.9,11.3 85.6,11.7 Q88.4,11.8 89.8,13 C93,15.8 98.6,23 100.8,27.6" fill="none" stroke="#77787b" stroke-width="0.45"/>
</g>
</g></svg>
<div class="lbl" style="left:1335.4px;color:#fff;-webkit-text-stroke:0.4px #f6911e;letter-spacing:2.2px">Others</div>
<div class="floor"></div>
</div>
</body>
</html>
